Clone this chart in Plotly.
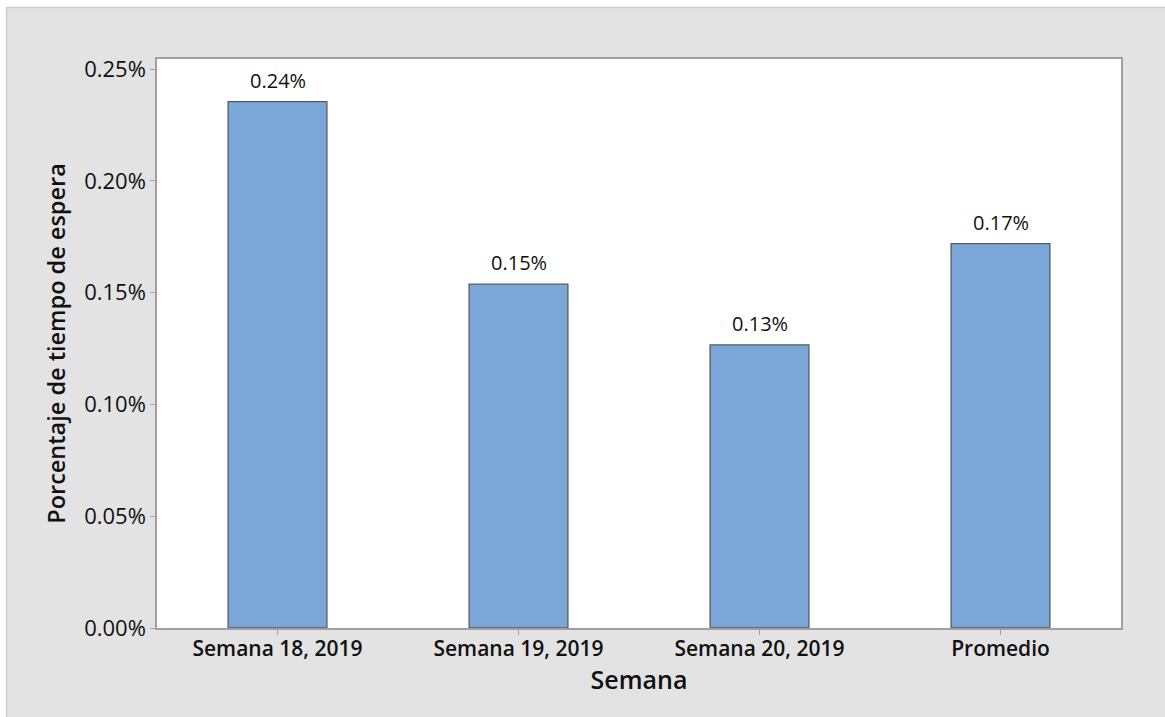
import plotly.graph_objects as go

# Weekly share of waiting time, as fractions (0.0025 = 0.25%)
semanas = ["Semana 18, 2019", "Semana 19, 2019", "Semana 20, 2019", "Promedio"]
porcentaje = [0.002354, 0.001538, 0.001266, 0.001719]

y_ticks = [0.0, 0.0005, 0.0010, 0.0015, 0.0020, 0.0025]

FONT = "Open Sans"
BAR_FILL = "#7ba7d8"
BAR_EDGE = "#555a60"
AXIS_GRAY = "#a0a0a0"
PANEL_GRAY = "#e3e3e3"

fig = go.Figure()
fig.add_trace(go.Bar(
    x=semanas,
    y=porcentaje,
    width=0.41,
    marker=dict(color=BAR_FILL, line=dict(color=BAR_EDGE, width=1.3)),
    hoverinfo="skip",
))

# value labels above each bar
for s, v in zip(semanas, porcentaje):
    fig.add_annotation(
        x=s, y=v, xref="x", yref="y",
        text=f"{v:.2%}",
        showarrow=False, yanchor="bottom", yshift=6,
        font=dict(family=FONT, size=20, color="#111111"),
    )

W, H = 1165, 717
L, R, T, B = 157, 44, 59, 89
pw, ph = W - L - R, H - T - B

def px_x(p):
    return (p - L) / pw

def px_y(p):
    return (H - B - p) / ph

# white strips outside the gray panel, and its thin border
fig.add_shape(type="rect", xref="paper", yref="paper",
              x0=px_x(-5), x1=px_x(6), y0=px_y(H + 5), y1=px_y(-5),
              fillcolor="white", line_width=0, layer="below")
fig.add_shape(type="rect", xref="paper", yref="paper",
              x0=px_x(-5), x1=px_x(W + 5), y0=px_y(7), y1=px_y(-5),
              fillcolor="white", line_width=0, layer="below")
fig.add_shape(type="line", xref="paper", yref="paper",
              x0=px_x(6.5), x1=px_x(6.5), y0=px_y(H + 5), y1=px_y(7.5),
              line=dict(color="#cccccc", width=1.5))
fig.add_shape(type="line", xref="paper", yref="paper",
              x0=px_x(6.5), x1=px_x(W + 5), y0=px_y(7.5), y1=px_y(7.5),
              line=dict(color="#cccccc", width=1.5))

fig.update_layout(
    width=W, height=H,
    margin=dict(l=L, r=R, t=T, b=B, pad=0),
    paper_bgcolor=PANEL_GRAY,
    plot_bgcolor="white",
    showlegend=False,
    font=dict(family=FONT, color="#111111"),
)

fig.update_xaxes(
    title=dict(text="Semana", font=dict(family=FONT, size=25, weight=600), standoff=0),
    tickfont=dict(family=FONT, size=21, weight=600),
    ticklabelstandoff=-4,
    showline=True, linecolor=AXIS_GRAY, linewidth=1.5, mirror=True,
    ticks="outside", ticklen=5, tickcolor=AXIS_GRAY, tickwidth=1,
    showgrid=False,
)
fig.update_yaxes(
    title=dict(text="Porcentaje de tiempo de espera", font=dict(family=FONT, size=23.5, weight=600), standoff=12),
    range=[0, 0.002545],
    tickvals=y_ticks,
    tickformat=".2%",
    tickfont=dict(family=FONT, size=22),
    showline=True, linecolor=AXIS_GRAY, linewidth=1.5, mirror=True,
    ticks="outside", ticklen=5, tickcolor=AXIS_GRAY, tickwidth=1,
    showgrid=False, zeroline=False,
)

fig.write_html("out.html")
